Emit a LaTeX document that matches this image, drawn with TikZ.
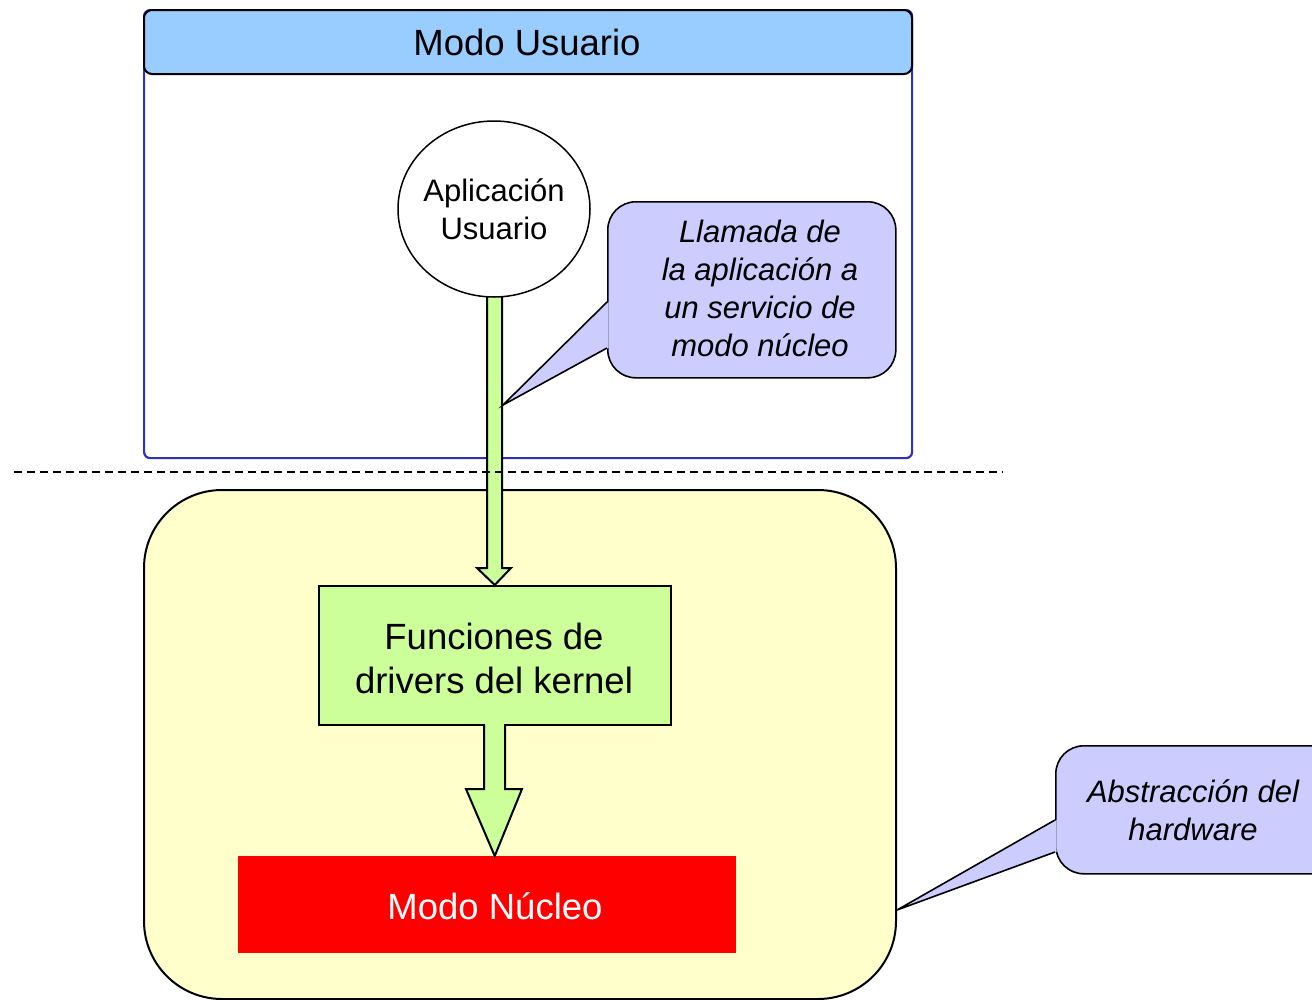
\documentclass[tikz,border=0pt]{standalone}
\usepackage{fontspec}
\setmainfont{Liberation Sans}
\usetikzlibrary{shapes.geometric}
\definecolor{hdrblue}{HTML}{99CCFF}
\definecolor{boxblue}{HTML}{3030C0}
\definecolor{kyellow}{HTML}{FFFFCC}
\definecolor{kgreen}{HTML}{CCFF99}
\definecolor{clilac}{HTML}{CCCCFF}
\tikzset{
  bigtext/.style={font=\fontsize{36.5}{44}\selectfont},
  smalltext/.style={font=\fontsize{31}{38}\selectfont},
  calltext/.style={font=\fontsize{31}{38}\selectfont\itshape, align=center},
  calloutbox/.style={draw=black, line width=1.6pt, fill=clilac, rounded corners=28, inner sep=0pt},
  fatarrow/.style={fill=kgreen},
  fatline/.style={draw=black, line width=2pt, line join=miter},
}
\begin{document}
\begin{tikzpicture}[x=1pt,y=-1pt]
\useasboundingbox (0,0) rectangle (1312,999);
\begin{scope}
\clip (0,0) rectangle (1312,999);
% user mode frame
\node[draw=boxblue, line width=2.2pt, fill=white, rounded corners=6, minimum width=768pt, minimum height=448pt, inner sep=0pt, anchor=north west] (um) at (143,9) {};
\node[draw=black, line width=2pt, fill=hdrblue, rounded corners=8, minimum width=768pt, minimum height=64pt, inner sep=0pt, anchor=north west] (hdr) at (143,9) {};
\node[bigtext] (hdrt) at (527,42) {Modo Usuario};
% kernel area
\node[draw=black, line width=2pt, fill=kyellow, rounded corners=78, minimum width=752pt, minimum height=509pt, inner sep=0pt, anchor=north west] (kz) at (143,489) {};
% green box
\node[draw=black, line width=1.5pt, fill=kgreen, minimum width=352pt, minimum height=139pt, inner sep=0pt, anchor=north west] (drv) at (318,585) {};
\node[bigtext, align=center] (drvt) at (494,658) {Funciones de\\drivers del kernel};
% red box
\node[fill=red, minimum width=498pt, minimum height=97pt, inner sep=0pt, anchor=north west] (nuc) at (238,856) {};
\node[bigtext, text=white] (nuct) at (495,906) {Modo Núcleo};
% arrow 1: app -> drivers
\coordinate (a1tip) at (drv.north);
\path[fatarrow] (487,290) -- (487,568) -- (477,568) -- (a1tip) -- (511,568) -- (502,568) -- (502,290) -- cycle;
\draw[fatline] (487,290) -- (487,568) -- (477,568) -- (a1tip) -- (511,568) -- (502,568) -- (502,290);
% application ellipse
\node[ellipse, draw=black, line width=1.5pt, fill=white, minimum width=192pt, minimum height=176pt, inner sep=0pt] (app) at (494,209) {};
\node[smalltext, align=center] (appt) at (app.center) {Aplicación\\Usuario};
% dashed separator
\coordinate (dl) at (14,472);
\coordinate (dr) at (1003,472);
\draw[line width=1.5pt, dash pattern=on 8pt off 5pt] (dl) -- (dr);
% arrow 2: drivers -> kernel
\coordinate (a2tip) at (nuc.north -| drv.south);
\path[fatarrow] (484,723) -- (484,789) -- (466,789) -- (a2tip) -- (522,789) -- (505,789) -- (505,723) -- cycle;
\draw[fatline] (484,724) -- (484,789) -- (466,789) -- (a2tip) -- (522,789) -- (505,789) -- (505,724);
% callout 1
\node[calloutbox, minimum width=288pt, minimum height=176pt, anchor=north west] (c1) at (607,201) {};
\coordinate (c1tip) at (503,405);
\fill[clilac] (608.5,302) -- (c1tip) -- (608.5,348) -- cycle;
\draw[line width=1.6pt, line join=miter] (607,302) -- (c1tip) -- (607,348);
\node[calltext] (c1t) at (760,288) {Llamada de\\la aplicación a\\un servicio de\\modo núcleo};
% callout 2
\node[calloutbox, minimum width=290pt, minimum height=128pt, anchor=north west] (c2) at (1055,745) {};
\coordinate (c2tip) at (897,910);
\fill[clilac] (1056.5,820) -- (c2tip) -- (1056.5,852) -- cycle;
\draw[line width=1.6pt, line join=miter] (1055,820) -- (c2tip) -- (1055,852);
\node[calltext] (c2t) at (1193,810) {Abstracción del\\hardware};
\end{scope}
\end{tikzpicture}
\end{document}
